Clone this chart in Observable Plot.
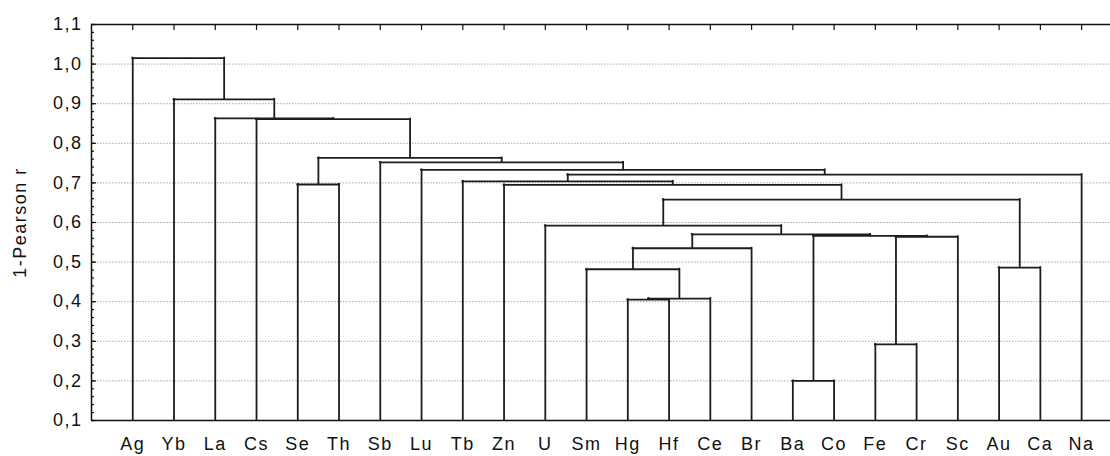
<!DOCTYPE html>
<html><head><meta charset="utf-8">
<script src="https://cdn.jsdelivr.net/npm/d3@7"></script>
<script src="https://cdn.jsdelivr.net/npm/@observablehq/plot@0.6"></script>
<style>
html,body{margin:0;padding:0;background:#fff;overflow:hidden;}
#chart svg text{letter-spacing:1.5px;font-size:18px;}
</style></head><body><div id="chart"></div>
<script>
// Leaves (left to right)
const leaves = ["Ag","Yb","La","Cs","Se","Th","Sb","Lu","Tb","Zn","U","Sm","Hg","Hf","Ce","Br","Ba","Co","Fe","Cr","Sc","Au","Ca","Na"];
// Merges (bottom-up): id, left child, right child, linkage distance
const mergeId     = ["c1","c2","c3","c4","c5","c6","c7","c8","c9","c10","c11","c12","c13","c14","c15","c16","c17","c18","c19","c20","c21","c22","c23"];
const mergeLeft   = ["Ba","Fe","Hg","c3","Sm","Au","c5","c2","c1","c7","U","c11","Zn","Se","Tb","c15","Lu","Sb","c14","Cs","La","Yb","Ag"];
const mergeRight  = ["Co","Cr","Hf","Ce","c4","Ca","Br","Sc","c8","c9","c10","c6","c12","Th","c13","Na","c16","c17","c18","c19","c20","c21","c22"];
const mergeHeight = [0.200,0.292,0.405,0.408,0.482,0.486,0.535,0.564,0.566,0.570,0.592,0.658,0.695,0.696,0.704,0.721,0.733,0.752,0.763,0.861,0.863,0.911,1.015];
// Axis ticks
const yTicks = [0.1,0.2,0.3,0.4,0.5,0.6,0.7,0.8,0.9,1.0,1.1];
const yGrid  = [0.2,0.3,0.4,0.5,0.6,0.7,0.8,0.9,1.0];
const yMinor = d3.range(0, 51).map(i => 0.1 + i * 0.02);
const axisTitle = "1-Pearson r";

// Build dendrogram segments
const pos = new Map(leaves.map((d, i) => [d, {x: i, h: 0.1}]));
const hSegs = [], vSegs = [];
mergeId.forEach((id, k) => {
  const a = pos.get(mergeLeft[k]), b = pos.get(mergeRight[k]), h = mergeHeight[k];
  hSegs.push({x1: a.x, x2: b.x, y: h});
  vSegs.push({x: a.x, y1: a.h, y2: h}, {x: b.x, y1: b.h, y2: h});
  pos.set(id, {x: (a.x + b.x) / 2, h});
});
const leafIdx = leaves.map((d, i) => i);
const lineColor = "#1c1c1c";

const chart = Plot.plot({
  width: 1110, height: 456,
  marginLeft: 91, marginRight: 0, marginTop: 24, marginBottom: 36,
  x: {type: "linear", domain: [-1, 23.7], axis: null},
  y: {domain: [0.1, 1.1], axis: null},
  style: {fontFamily: "'Liberation Sans', Arial, sans-serif", fontSize: "18px", color: "#111", background: "white"},
  marks: [
    Plot.ruleY(yGrid, {stroke: "#a8a8a8", strokeWidth: 1, strokeDasharray: "1.5,1.5"}),
    Plot.axisY({ticks: yMinor, tickSize: 3, dx: 3, tickFormat: () => "", label: null, strokeWidth: 1.2}),
    Plot.axisY({ticks: yTicks, tickSize: 5, dx: 5, tickFormat: () => "", label: null, strokeWidth: 1.2}),
    Plot.axisY({ticks: yTicks, tickSize: 0, tickPadding: 9, tickFormat: d => d.toFixed(1).replace(".", ","), label: null, fontSize: 18}),
    Plot.axisX({anchor: "top", ticks: leafIdx, tickSize: 5, dy: 5, tickFormat: () => "", label: null, strokeWidth: 1.2}),
    Plot.axisX({anchor: "bottom", ticks: leafIdx, tickSize: 0, tickPadding: 17, tickFormat: i => leaves[i], label: null, fontSize: 18}),
    Plot.ruleY([1.1, 0.1], {stroke: "#111", strokeWidth: 1.5}),
    Plot.ruleX([-1], {stroke: "#111", strokeWidth: 1.5}),
    Plot.ruleX(vSegs, {x: "x", y1: "y1", y2: "y2", stroke: lineColor, strokeWidth: 1.8, strokeLinecap: "square"}),
    Plot.ruleY(hSegs, {y: "y", x1: "x1", x2: "x2", stroke: lineColor, strokeWidth: 1.8, strokeLinecap: "square"}),
    Plot.text([axisTitle], {frameAnchor: "left", textAnchor: "middle", dx: -71, rotate: -90, fontSize: 18, fill: "#111"})
  ]
});
document.getElementById("chart").appendChild(chart);
</script></body></html>
